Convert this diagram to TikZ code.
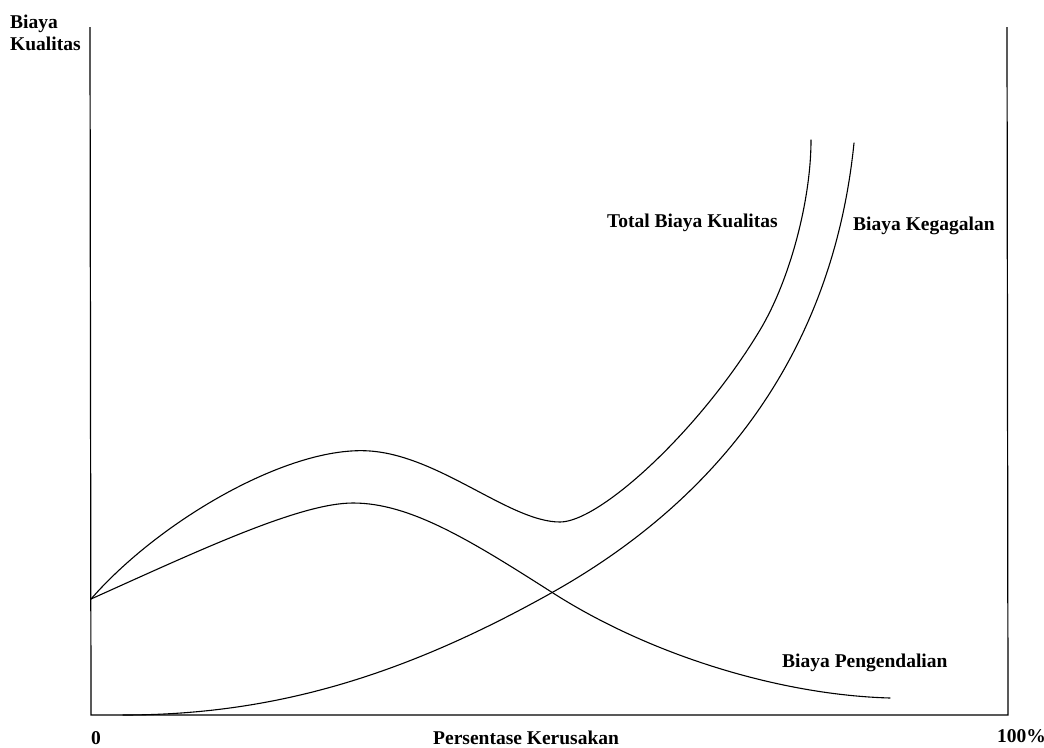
\documentclass[tikz,border=0pt]{standalone}
\usepackage{fontspec}
\setmainfont{Liberation Serif}
\begin{document}
\begin{tikzpicture}[x=1pt,y=-1pt,
  curve/.style={line width=1.1pt, line join=round, line cap=round},
  axis/.style={line width=1.2pt},
  lbl/.style={anchor=base west, inner sep=0pt, font=\bfseries\fontsize{19.5}{22}\selectfont}]
\useasboundingbox (0,0) rectangle (1044,747);
% frame
\coordinate (tl) at (90,27);
\coordinate (o) at (91,715);
\coordinate (br) at (1008,715);
\coordinate (tr) at (1007,27);
\draw[axis] (tl) -- (o) -- (br) -- (tr);
% common start
\coordinate (s) at (91,599);
% Total Biaya Kualitas
\coordinate (tpk) at (370,451);
\coordinate (tmn) at (560,522);
\coordinate (tm) at (760,330);
\coordinate (ttop) at (811,140);
\draw[curve] (s) .. controls (160,520) and (290,445) .. (tpk)
  .. controls (440,456) and (510,522) .. (tmn)
  .. controls (600,522) and (700,430) .. (tm)
  .. controls (790,280) and (811,200) .. (ttop);
% Biaya Pengendalian
\coordinate (ppk) at (353,503);
\coordinate (px) at (553,593);
\coordinate (pend) at (890,698);
\draw[curve] (s) .. controls (200,550) and (300,503) .. (ppk)
  .. controls (410,503) and (470,540) .. (px)
  .. controls (650,655) and (780,695) .. (pend);
% Biaya Kegagalan
\coordinate (kst) at (123,715);
\coordinate (kx) at (553,592);
\coordinate (ktop) at (854,143);
\draw[curve] (kst) .. controls (270,715) and (400,678) .. (kx)
  .. controls (690,515) and (830,380) .. (ktop);
% labels
\node[lbl] (ylab1) at (10,28) {Biaya};
\node[lbl] (ylab2) at (10,50) {Kualitas};
\node[lbl] (tot) at (607,227) {Total Biaya Kualitas};
\node[lbl] (keg) at (853,230) {Biaya Kegagalan};
\node[lbl] (pen) at (782,667) {Biaya Pengendalian};
\node[lbl] (xlab) at (433,744) {Persentase Kerusakan};
\node[lbl] (zero) at (91,744) {0};
\node[lbl] (hund) at (997,742) {100\%};
\end{tikzpicture}
\end{document}
